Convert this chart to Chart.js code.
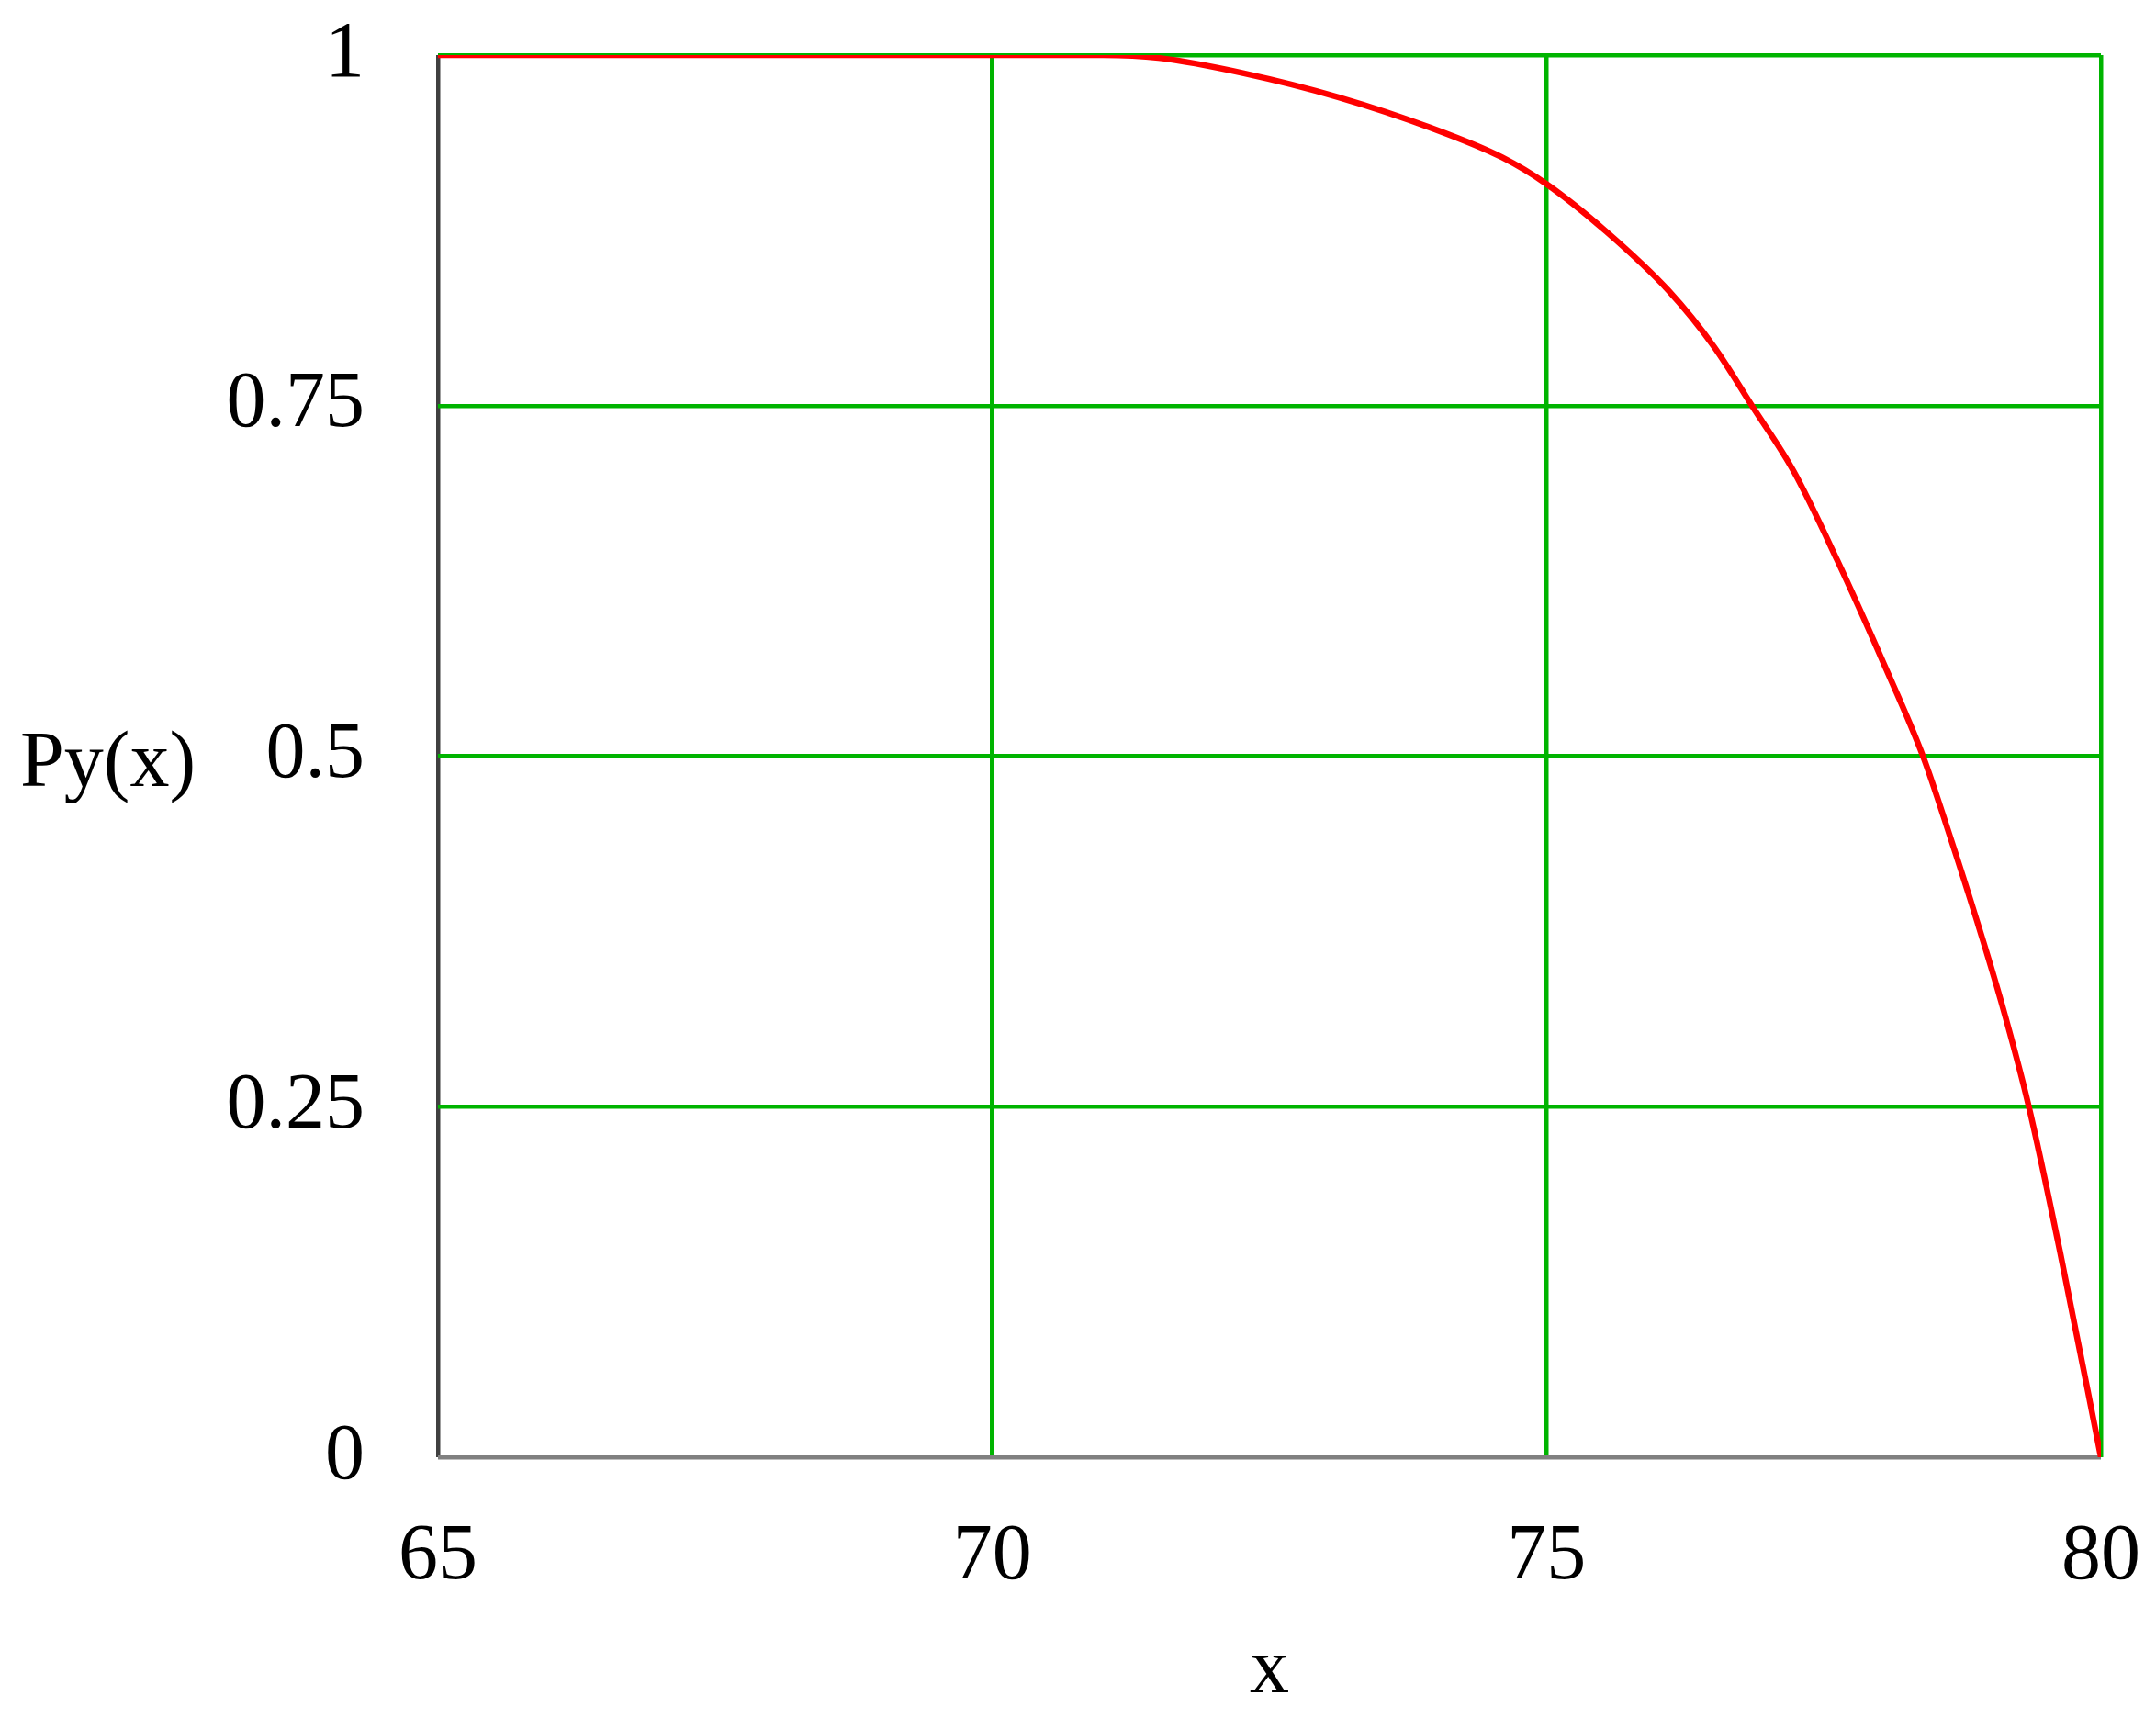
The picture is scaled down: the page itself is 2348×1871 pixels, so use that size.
<!DOCTYPE html>
<html>
<head>
<meta charset="utf-8">
<style>
  html, body { margin: 0; padding: 0; background: #ffffff; }
  #wrap { width: 2348px; height: 1871px; }
</style>
<script src="https://cdn.jsdelivr.net/npm/chart.js@4"></script>
</head>
<body>
<div id="wrap"><canvas id="c" width="2348" height="1871"></canvas></div>
<script>
// Data
const xValues = [65, 67, 69, 70, 71, 71.5, 72.27, 73.12, 73.96, 74.6, 75, 75.54, 76.1, 76.51, 76.86, 77.23, 77.62, 78.03, 78.4, 78.63, 78.88, 79.1, 79.35, 79.63, 80];
const pyValues = [1, 1, 1, 1, 1, 0.998, 0.987, 0.970, 0.948, 0.927, 0.908, 0.874, 0.832, 0.792, 0.749, 0.703, 0.640, 0.568, 0.499, 0.445, 0.383, 0.325, 0.25, 0.147, 0];
const xTicks = [65, 70, 75, 80];
const yTicks = [0, 0.25, 0.5, 0.75, 1];
const yTickLabels = ["0", "0.25", "0.5", "0.75", "1"];
const xTitle = "x";
const yTitle = "Py(x)";

const FONT = "'Liberation Serif', 'Times New Roman', serif";
const FS = 86;
const GREEN = "#00b400";

const points = xValues.map((x, i) => ({ x: x, y: pyValues[i] }));

const titlesPlugin = {
  id: 'titles',
  afterDraw(chart) {
    const ctx = chart.ctx;
    const area = chart.chartArea;
    ctx.save();
    ctx.fillStyle = '#000';
    ctx.font = FS + 'px ' + FONT;
    ctx.textBaseline = 'alphabetic';
    ctx.textAlign = 'left';
    const yMid = chart.scales.y.getPixelForValue(0.5);
    ctx.fillText(yTitle, 22, yMid + 32);
    ctx.textAlign = 'center';
    ctx.fillText(xTitle, (area.left + area.right) / 2, 1843);
    ctx.restore();
  }
};

function zeroPad(scale) {
  scale.paddingTop = 0; scale.paddingBottom = 0;
  scale.paddingLeft = 0; scale.paddingRight = 0;
}

new Chart(document.getElementById('c'), {
  type: 'line',
  data: {
    datasets: [{
      data: points,
      borderColor: '#ff0000',
      borderWidth: 6.5,
      pointRadius: 0,
      fill: false,
      cubicInterpolationMode: 'monotone'
    }]
  },
  options: {
    responsive: false,
    animation: false,
    devicePixelRatio: 1,
    layout: { padding: { left: 0, right: 60, top: 60, bottom: 0 } },
    plugins: { legend: { display: false }, tooltip: { enabled: false } },
    scales: {
      x: {
        type: 'linear',
        min: 65, max: 80,
        afterBuildTicks(scale) { scale.ticks = xTicks.map(v => ({ value: v })); },
        afterFit(scale) { scale.height = 284; zeroPad(scale); },
        border: { display: false },
        grid: {
          drawTicks: false,
          lineWidth: 4.5,
          color: (c) => (c.tick && c.tick.value === 65) ? '#404040' : GREEN
        },
        ticks: {
          padding: 58,
          color: '#000',
          font: { family: FONT, size: FS },
          maxRotation: 0,
          autoSkip: false,
          callback: (v) => String(v)
        }
      },
      y: {
        type: 'linear',
        min: 0, max: 1,
        afterBuildTicks(scale) { scale.ticks = yTicks.map(v => ({ value: v })); },
        afterFit(scale) { scale.width = 477; zeroPad(scale); },
        border: { display: false },
        grid: {
          drawTicks: false,
          lineWidth: 4.5,
          color: (c) => (c.tick && c.tick.value === 0) ? '#808080' : GREEN
        },
        ticks: {
          padding: 80,
          color: '#000',
          font: { family: FONT, size: FS },
          autoSkip: false,
          callback: (v) => yTickLabels[yTicks.indexOf(v)]
        }
      }
    }
  },
  plugins: [titlesPlugin]
});
</script>
</body>
</html>
